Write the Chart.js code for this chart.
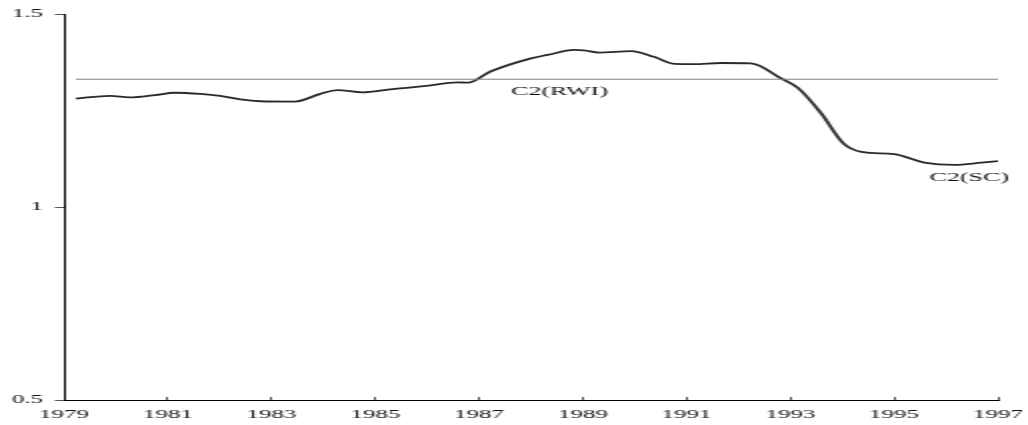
<!DOCTYPE html>
<html>
<head>
<meta charset="utf-8">
<script src="https://cdn.jsdelivr.net/npm/chart.js@4.4.1/dist/chart.umd.min.js"></script>
<style>
    html, body { margin: 0; padding: 0; background: #fff; overflow: hidden; }
    /* the original picture is stretched sideways, so draw at half width and widen */
    #wrap { width: 514px; height: 425px; transform: scaleX(2); transform-origin: 0 0; }
</style>
</head>
<body>
<div id="wrap"><canvas id="c2Chart"></canvas></div>
<script>
// C2(SC) series
const years = [1979.23, 1979.89, 1980.27, 1980.76, 1981.14, 1981.63, 1982.01, 1982.40, 1982.78, 1983.45,
    1983.94, 1984.27, 1984.75, 1985.29, 1985.93, 1986.59, 1986.78, 1987.22, 1988.00, 1988.32,
    1988.83, 1989.02, 1989.31, 1989.93, 1990.37, 1990.76, 1991.14, 1991.66, 1992.24, 1992.82,
    1993.15, 1993.59, 1994.02, 1994.37, 1995.00, 1995.58, 1996.16, 1996.68, 1997.00];
const scValues = [1.281, 1.288, 1.284, 1.290, 1.296, 1.293, 1.288, 1.279, 1.274, 1.273,
    1.293, 1.303, 1.297, 1.305, 1.313, 1.323, 1.322, 1.351, 1.385, 1.394,
    1.407, 1.406, 1.400, 1.404, 1.389, 1.371, 1.370, 1.373, 1.372, 1.333,
    1.308, 1.243, 1.165, 1.143, 1.137, 1.115, 1.109, 1.115, 1.119];

// C2(RWI) constant level
const rwiYears = [1979.23, 1997.0];
const rwiValues = [1.331, 1.331];

const xTicks = [1979, 1981, 1983, 1985, 1987, 1989, 1991, 1993, 1995, 1997];
const yTicks = [0.5, 1, 1.5];
const yTickLabels = ['0.5', '1', '1.5'];

const labelTexts = ['C2(RWI)', 'C2(SC)'];
const labelYears = [1988.55, 1996.45];
const labelValues = [1.30, 1.076];

const serif = "'Liberation Serif', 'Times New Roman', serif";

const seriesLabels = {
    id: 'seriesLabels',
    afterDatasetsDraw(chart) {
        const ctx = chart.ctx;
        const xs = chart.scales.x, ys = chart.scales.y;
        ctx.save();
        ctx.font = '13px ' + serif;
        ctx.fillStyle = '#111';
        ctx.textAlign = 'center';
        ctx.textBaseline = 'middle';
        labelTexts.forEach((t, i) => {
            ctx.fillText(t, xs.getPixelForValue(labelYears[i]), ys.getPixelForValue(labelValues[i]));
        });
        ctx.restore();
    }
};

new Chart(document.getElementById('c2Chart'), {
    type: 'line',
    data: {
        datasets: [{
            label: 'C2(RWI)',
            data: rwiYears.map((x, i) => ({ x: x, y: rwiValues[i] })),
            borderColor: '#808080',
            borderWidth: 1,
            pointRadius: 0,
            tension: 0
        }, {
            label: 'C2(SC)',
            data: years.map((x, i) => ({ x: x, y: scValues[i] })),
            borderColor: '#2a2a2a',
            borderWidth: 1.8,
            pointRadius: 0,
            cubicInterpolationMode: 'monotone'
        }]
    },
    options: {
        responsive: true,
        maintainAspectRatio: false,
        animation: false,
        devicePixelRatio: 1,
        layout: { padding: { left: 0, right: 15, top: 14, bottom: 0 } },
        plugins: {
            legend: { display: false },
            tooltip: { enabled: false }
        },
        scales: {
            x: {
                type: 'linear',
                min: 1979,
                max: 1997,
                afterBuildTicks: function(scale) {
                    scale.ticks = xTicks.map(v => ({ value: v }));
                },
                afterFit: function(scale) {
                    scale.height = 25;
                    scale.paddingLeft = 0;
                    scale.paddingRight = 0;
                },
                border: { color: '#000', width: 1 },
                grid: { drawOnChartArea: false, tickLength: -3, color: '#555' },
                ticks: {
                    autoSkip: false,
                    maxRotation: 0,
                    padding: 10,
                    color: '#111',
                    font: { family: serif, size: 12.5 },
                    callback: v => String(v)
                }
            },
            y: {
                min: 0.5,
                max: 1.5,
                afterBuildTicks: function(scale) {
                    scale.ticks = yTicks.map(v => ({ value: v }));
                },
                afterFit: function(scale) {
                    scale.width = 32;
                    scale.paddingTop = 0;
                    scale.paddingBottom = 0;
                },
                border: { color: '#000', width: 1 },
                grid: { drawOnChartArea: false, tickLength: 4.5, color: '#555' },
                ticks: {
                    padding: 6,
                    color: '#111',
                    font: { family: serif, size: 12.5 },
                    callback: v => yTickLabels[yTicks.indexOf(v)]
                }
            }
        }
    },
    plugins: [seriesLabels]
});
</script>
</body>
</html>
